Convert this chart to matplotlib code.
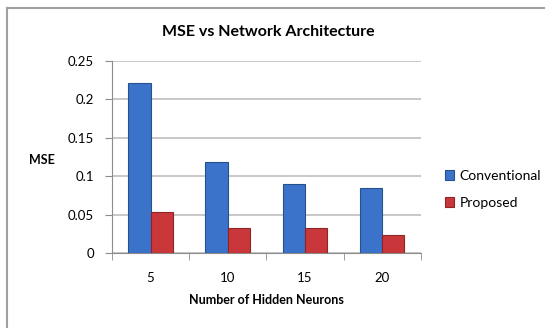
import numpy as np
import matplotlib.pyplot as plt
from matplotlib.lines import Line2D

# data
neurons = ["5", "10", "15", "20"]
conventional = [0.221, 0.119, 0.090, 0.084]
proposed = [0.054, 0.033, 0.032, 0.024]
y_ticks = [0, 0.05, 0.1, 0.15, 0.2, 0.25]
y_tick_labels = ["0", "0.05", "0.1", "0.15", "0.2", "0.25"]

plt.rcParams['font.family'] = ['Lato', 'DejaVu Sans']

W, H = 545, 328
fig = plt.figure(figsize=(W / 100, H / 100), dpi=100)
ax = fig.add_axes([112 / W, 75 / H, 308.7 / W, 192 / H])

# chart frame (left and top edges only show inside the image)
frame = dict(transform=fig.transFigure, color="#a0a0a0", linewidth=1.5)
fig.lines.append(Line2D([6.5 / W, 6.5 / W], [0, 1 - 7.5 / H], **frame))
fig.lines.append(Line2D([6.5 / W, 1], [1 - 7.5 / H, 1 - 7.5 / H], **frame))

x = np.arange(len(neurons))
w = 0.29
ax.bar(x - w / 2, conventional, w, color="#3a73c9", edgecolor="#27508f",
       linewidth=0.8, label="Conventional", zorder=3)
ax.bar(x + w / 2, proposed, w, color="#c9373a", edgecolor="#8f2528",
       linewidth=0.8, label="Proposed", zorder=3)

ax.set_xlim(-0.5, len(neurons) - 0.5)
ax.set_ylim(0, 0.25)
ax.set_yticks(y_ticks)
ax.set_yticklabels(y_tick_labels)
ax.set_xticks(x)
ax.set_xticklabels(neurons)
ax.set_xticks(np.arange(len(neurons) + 1) - 0.5, minor=True)
ax.tick_params(axis="x", which="major", length=0, pad=14, labelsize=9.5)
ax.tick_params(axis="x", which="minor", length=5, color="#8c8c8c")
ax.tick_params(axis="y", length=5, color="#8c8c8c", pad=8, labelsize=9.5)

ax.grid(axis="y", color="#c8c8c8", linewidth=1.4, zorder=0)
for side in ["top", "right"]:
    ax.spines[side].set_visible(False)
ax.spines["left"].set_color("#8c8c8c")
ax.spines["bottom"].set_color("#8c8c8c")

fig.text(268 / W, 1 - 32 / H, "MSE vs Network Architecture",
         ha="center", va="center", fontsize=11.5, fontweight="bold")
fig.text(42 / W, 1 - 160 / H, "MSE", ha="center", va="center",
         fontsize=9, fontweight="bold")
fig.text(266 / W, 1 - 300 / H, "Number of Hidden Neurons",
         ha="center", va="center", fontsize=9, fontweight="bold")

ax.legend(loc="center left", bbox_to_anchor=(432 / W, 1 - 189.5 / H),
          bbox_transform=fig.transFigure, frameon=False, fontsize=10,
          handlelength=0.7, handleheight=0.7, handletextpad=0.4,
          labelspacing=1.1)

fig.savefig("out.png", dpi=100)
